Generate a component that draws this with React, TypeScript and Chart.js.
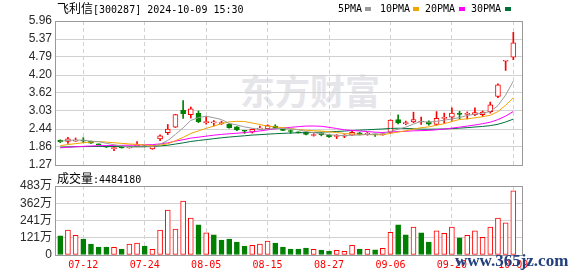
import React, { useEffect, useRef } from "react";
import { Chart, registerables } from "chart.js";

Chart.register(...registerables);

// ---------------- data ----------------
const stockName = "飞利信";
const stockCode = "300287";
const stamp = "2024-10-09 15:30";
const lastVolumeText = "4484180";

const dates = [
  "07-09","07-10","07-11","07-12","07-15","07-16","07-17","07-18","07-19","07-22",
  "07-23","07-24","07-25","07-26","07-29","07-30","07-31","08-01","08-02","08-05",
  "08-06","08-07","08-08","08-09","08-12","08-13","08-14","08-15","08-16","08-19",
  "08-20","08-21","08-22","08-23","08-26","08-27","08-28","08-29","08-30","09-02",
  "09-03","09-04","09-05","09-06","09-09","09-10","09-11","09-12","09-13","09-18",
  "09-19","09-20","09-23","09-24","09-25","09-26","09-27","09-30","10-08","10-09",
];

const opens = [
  2.07, 2.04, 2.05, 2.07, 2.04, 1.95, 1.88, 1.80, 1.86, 1.83,
  1.89, 1.89, 1.79, 2.12, 2.32, 2.50, 3.05, 2.91, 2.95, 2.65,
  2.64, 2.62, 2.60, 2.51, 2.39, 2.34, 2.44, 2.45, 2.54, 2.42,
  2.38, 2.34, 2.34, 2.23, 2.31, 2.24, 2.20, 2.21, 2.24, 2.32,
  2.28, 2.27, 2.25, 2.33, 2.75, 2.62, 2.67, 2.67, 2.68, 2.59,
  2.79, 2.83, 2.94, 2.92, 2.91, 2.91, 3.01, 3.50, 4.65, 4.78,
];
const closes = [
  2.02, 2.12, 2.07, 2.05, 1.98, 1.93, 1.85, 1.84, 1.83, 1.85,
  1.91, 1.87, 1.89, 2.22, 2.44, 2.91, 2.94, 3.10, 2.68, 2.67,
  2.66, 2.64, 2.48, 2.41, 2.37, 2.43, 2.45, 2.55, 2.46, 2.40,
  2.36, 2.32, 2.27, 2.25, 2.26, 2.19, 2.22, 2.22, 2.33, 2.27,
  2.29, 2.25, 2.27, 2.73, 2.64, 2.63, 2.75, 2.69, 2.60, 2.79,
  2.81, 2.96, 2.92, 2.94, 2.98, 2.99, 3.23, 3.88, 4.66, 5.25,
];
const highs = [
  2.09, 2.17, 2.15, 2.16, 2.05, 1.96, 1.89, 1.86, 1.87, 1.86,
  2.03, 1.90, 1.90, 2.25, 2.59, 2.92, 3.37, 3.16, 3.03, 2.84,
  2.72, 2.70, 2.62, 2.52, 2.40, 2.44, 2.54, 2.58, 2.58, 2.43,
  2.41, 2.35, 2.35, 2.29, 2.32, 2.25, 2.26, 2.26, 2.38, 2.33,
  2.33, 2.28, 2.29, 2.74, 2.90, 2.70, 2.99, 2.83, 2.71, 3.01,
  2.96, 3.13, 3.02, 3.00, 3.13, 3.03, 3.32, 3.91, 4.66, 5.59,
];
const lows = [
  2.00, 1.97, 2.04, 2.00, 1.97, 1.92, 1.84, 1.74, 1.82, 1.82,
  1.88, 1.86, 1.78, 2.06, 2.26, 2.49, 2.79, 2.80, 2.65, 2.60,
  2.54, 2.59, 2.47, 2.39, 2.30, 2.31, 2.43, 2.44, 2.45, 2.39,
  2.30, 2.31, 2.25, 2.21, 2.22, 2.17, 2.13, 2.16, 2.23, 2.25,
  2.24, 2.20, 2.24, 2.31, 2.61, 2.58, 2.65, 2.59, 2.57, 2.57,
  2.63, 2.72, 2.77, 2.77, 2.88, 2.85, 2.96, 3.46, 4.35, 4.70,
];

const ma5 = [
  2.040, 2.074, 2.084, 2.078, 2.048, 2.030, 1.976, 1.930, 1.886, 1.860,
  1.856, 1.860, 1.870, 1.948, 2.066, 2.266, 2.480, 2.722, 2.814, 2.860,
  2.810, 2.750, 2.626, 2.572, 2.512, 2.466, 2.428, 2.442, 2.452, 2.458,
  2.444, 2.418, 2.362, 2.320, 2.292, 2.258, 2.238, 2.228, 2.244, 2.246,
  2.266, 2.272, 2.282, 2.362, 2.436, 2.504, 2.604, 2.688, 2.662, 2.692,
  2.728, 2.770, 2.816, 2.884, 2.922, 2.958, 3.012, 3.204, 3.548, 4.002,
];
const ma10 = [
  1.900, 1.936, 1.967, 1.996, 2.018, 2.035, 2.016, 1.995, 1.974, 1.954,
  1.943, 1.918, 1.900, 1.917, 1.963, 2.061, 2.170, 2.296, 2.381, 2.463,
  2.538, 2.615, 2.674, 2.693, 2.686, 2.638, 2.589, 2.534, 2.512, 2.485,
  2.455, 2.423, 2.402, 2.386, 2.375, 2.351, 2.328, 2.295, 2.282, 2.269,
  2.262, 2.255, 2.255, 2.303, 2.341, 2.385, 2.438, 2.485, 2.512, 2.564,
  2.616, 2.687, 2.752, 2.773, 2.807, 2.843, 2.891, 3.010, 3.216, 3.462,
];
const ma20 = [
  1.830, 1.848, 1.864, 1.878, 1.889, 1.898, 1.902, 1.906, 1.910, 1.914,
  1.922, 1.927, 1.934, 1.957, 1.990, 2.048, 2.093, 2.146, 2.177, 2.209,
  2.241, 2.267, 2.287, 2.305, 2.325, 2.350, 2.380, 2.415, 2.447, 2.474,
  2.497, 2.519, 2.538, 2.540, 2.531, 2.495, 2.459, 2.415, 2.397, 2.377,
  2.359, 2.339, 2.329, 2.345, 2.358, 2.368, 2.383, 2.390, 2.397, 2.417,
  2.439, 2.471, 2.504, 2.538, 2.574, 2.614, 2.665, 2.748, 2.864, 3.013,
];
const ma30 = [
  1.850, 1.858, 1.864, 1.869, 1.872, 1.873, 1.872, 1.870, 1.868, 1.867,
  1.868, 1.871, 1.876, 1.891, 1.914, 1.952, 1.991, 2.036, 2.067, 2.097,
  2.127, 2.156, 2.180, 2.202, 2.222, 2.245, 2.258, 2.275, 2.289, 2.301,
  2.312, 2.319, 2.325, 2.332, 2.341, 2.350, 2.362, 2.375, 2.392, 2.406,
  2.418, 2.431, 2.444, 2.461, 2.467, 2.458, 2.452, 2.438, 2.435, 2.439,
  2.444, 2.455, 2.470, 2.487, 2.508, 2.526, 2.552, 2.597, 2.670, 2.765,
];

// volume in 万
const volumes = [
  134, 174, 138, 112, 77, 56, 56, 54, 42, 77,
  84, 63, 40, 174, 314, 181, 377, 258, 211, 155,
  141, 105, 112, 91, 63, 68, 77, 98, 84, 56,
  42, 42, 49, 40, 35, 28, 33, 26, 68, 42,
  40, 37, 47, 159, 211, 141, 195, 155, 91, 169,
  152, 195, 120, 138, 169, 124, 195, 258, 225, 448.418,
];
// 1 = up (red), -1 = down (green)
const volDir = [
  -1, 1, 1, -1, -1, -1, -1, 1, -1, 1,
  1, -1, 1, 1, 1, 1, 1, 1, -1, 1,
  -1, -1, -1, -1, -1, 1, 1, 1, -1, -1,
  -1, -1, -1, 1, -1, -1, 1, 1, 1, -1,
  1, -1, 1, 1, -1, -1, 1, -1, -1, 1,
  1, 1, -1, 1, 1, 1, 1, 1, 1, 1,
];

const xTickLabels = ["07-12", "07-24", "08-05", "08-15", "08-27", "09-06", "09-20", "10-09"];
const priceTickLabels = ["1.27", "1.86", "2.44", "3.03", "3.62", "4.20", "4.79", "5.37", "5.96"];
const volTickLabels = ["0", "121万", "241万", "362万", "483万"];
const maLabels = ["5PMA", "10PMA", "20PMA", "30PMA"];

// ---------------- styles ----------------
const RED = "#ff0000";
const GREEN = "#008000";
const MA_COLORS = ["#9a9a9a", "#f2a300", "#ff00ff", "#00703a"];
const GRID = "#d2d2d2";
const FRAME = "#999999";
const LABEL = "#2a2a2a";
const SANS = "'Liberation Sans', Arial, 'Noto Sans CJK SC', sans-serif";
const MONO = "'DejaVu Sans Mono', monospace";
const CJK = "'Noto Sans CJK SC', sans-serif";

const W = 578;
const H = 276;
const PLOT_LEFT = 55;
const PLOT_RIGHT = 522;
const PRICE_TOP = 21;
const PRICE_BOTTOM = 165;
const VOL_TOP = 186;
const VOL_BOTTOM = 255;
const X_MIN = -0.685;
const X_MAX = 60.13;

const framePlugin = {
  id: "frame",
  beforeDatasetsDraw(chart: any) {
    const { ctx, chartArea: a } = chart;
    ctx.save();
    ctx.strokeStyle = FRAME;
    ctx.lineWidth = 1;
    ctx.strokeRect(a.left + 0.5, a.top + 0.5, a.right - a.left, a.bottom - a.top);
    ctx.restore();
  },
};

function makeXScale(showLabels: boolean) {
  const tickIdx = xTickLabels.map((l) => dates.indexOf(l));
  return {
    type: "linear",
    min: X_MIN,
    max: X_MAX,
    offset: false,
    bounds: "data",
    afterDataLimits: (s: any) => {
      s.min = X_MIN;
      s.max = X_MAX;
    },
    afterBuildTicks: (s: any) => {
      s.ticks = tickIdx.map((v) => ({ value: v }));
      s.min = X_MIN;
      s.max = X_MAX;
    },
    afterFit: (s: any) => {
      s.height = showLabels ? H - VOL_BOTTOM : 0;
      s.paddingLeft = 0;
      s.paddingRight = 0;
    },
    grid: { color: GRID, lineWidth: 1, drawTicks: false, offset: false },
    border: { display: false, dash: [4, 3] },
    ticks: {
      display: showLabels,
      autoSkip: false,
      maxRotation: 0,
      minRotation: 0,
      padding: 4,
      color: RED,
      font: { family: MONO, size: 10 },
      callback: (v: number) => dates[v],
    },
  };
}

function makeYScale(labels: string[], width: number) {
  const vals = labels.map((t) => parseFloat(t));
  return {
    type: "linear",
    min: vals[0],
    max: vals[vals.length - 1],
    afterBuildTicks: (s: any) => {
      s.ticks = vals.map((v) => ({ value: v }));
    },
    afterFit: (s: any) => {
      s.width = width;
      s.paddingTop = 0;
      s.paddingBottom = 0;
    },
    grid: { color: GRID, lineWidth: 1, drawTicks: false },
    border: { display: false },
    ticks: {
      z: 1,
      autoSkip: false,
      padding: 3,
      color: LABEL,
      font: { family: SANS, size: 12 },
      callback: (_v: number, i: number) => labels[i],
    },
  };
}

export default function App() {
  const priceRef = useRef<HTMLCanvasElement>(null);
  const volRef = useRef<HTMLCanvasElement>(null);

  useEffect(() => {
    const candleColor = closes.map((c, i) => (c >= opens[i] ? RED : GREEN));
    const candleFill = closes.map((c, i) => (c >= opens[i] ? "#ffffff" : GREEN));
    const maSeries = [ma5, ma10, ma20, ma30];

    const priceChart = new Chart(priceRef.current as HTMLCanvasElement, {
      type: "bar",
      data: {
        datasets: [
          ...maSeries.map((arr, k) => ({
            type: "line" as const,
            label: maLabels[k],
            data: arr.map((v, i) => ({ x: i, y: v })),
            borderColor: MA_COLORS[k],
            borderWidth: 1,
            pointRadius: 0,
            tension: 0,
            fill: false,
          })),
          {
            type: "bar" as const,
            label: "body",
            data: opens.map((o, i) => ({ x: i, y: [o, closes[i]] })),
            backgroundColor: candleFill,
            borderColor: candleColor,
            borderWidth: 1,
            borderSkipped: false,
            barThickness: 5,
            grouped: false,
            minBarLength: 1,
          },
          {
            type: "bar" as const,
            label: "wick",
            data: lows.map((l, i) => ({ x: i, y: [l, highs[i]] })),
            backgroundColor: candleColor,
            borderWidth: 0,
            barThickness: 1,
            grouped: false,
          },
        ],
      } as any,
      options: {
        responsive: false,
        animation: false,
        events: [],
        layout: {
          padding: { left: 0, right: W - PLOT_RIGHT, top: PRICE_TOP, bottom: H - PRICE_BOTTOM },
        },
        plugins: { legend: { display: false }, tooltip: { enabled: false } },
        scales: {
          x: makeXScale(false),
          y: makeYScale(priceTickLabels, PLOT_LEFT),
        } as any,
      },
      plugins: [framePlugin],
    });

    const volChart = new Chart(volRef.current as HTMLCanvasElement, {
      type: "bar",
      data: {
        datasets: [
          {
            label: "vol",
            data: volumes.map((v, i) => ({ x: i, y: v })),
            backgroundColor: volDir.map((d) => (d > 0 ? "#ffffff" : GREEN)),
            borderColor: volDir.map((d) => (d > 0 ? RED : GREEN)),
            borderWidth: 1,
            borderSkipped: false,
            barThickness: 5,
            grouped: false,
          },
        ],
      } as any,
      options: {
        responsive: false,
        animation: false,
        events: [],
        layout: { padding: { left: 0, right: W - PLOT_RIGHT, top: VOL_TOP, bottom: 0 } },
        plugins: { legend: { display: false }, tooltip: { enabled: false } },
        scales: {
          x: makeXScale(true),
          y: makeYScale(volTickLabels, PLOT_LEFT),
        } as any,
      },
      plugins: [framePlugin],
    });

    return () => {
      priceChart.destroy();
      volChart.destroy();
    };
  }, []);

  const legendX = [338, 380, 425, 471];
  const squareX = [365, 413, 459, 505];

  const abs = (left: number, top: number): React.CSSProperties => ({
    position: "absolute",
    left,
    top,
    whiteSpace: "nowrap",
  });

  return (
    <div
      style={{
        position: "absolute",
        left: 0,
        top: 0,
        width: W,
        height: H,
        background: "#ffffff",
        overflow: "hidden",
      }}
    >
      <div
        style={{
          ...abs(240, 72),
          fontFamily: CJK,
          fontWeight: 700,
          fontSize: 35,
          lineHeight: "35px",
          color: "#e6e6ea",
        }}
      >
        东方财富
      </div>
      <canvas ref={priceRef} width={W} height={H} style={{ position: "absolute", left: 0, top: 0 }} />
      <canvas ref={volRef} width={W} height={H} style={{ position: "absolute", left: 0, top: 0 }} />

      <div style={{ ...abs(57, 3), fontFamily: MONO, fontSize: 10, lineHeight: "10px", color: "#000" }}>
        <span style={{ fontFamily: CJK, fontSize: 12 }}>{stockName}</span>
        {`[${stockCode}] ${stamp}`}
      </div>

      {maLabels.map((t, k) => (
        <React.Fragment key={t}>
          <div style={{ ...abs(legendX[k], 4), fontFamily: MONO, fontSize: 10, lineHeight: "10px", color: "#000" }}>
            {t}
          </div>
          <div
            style={{
              position: "absolute",
              left: squareX[k],
              top: 7,
              width: 6,
              height: 4,
              background: MA_COLORS[k],
            }}
          />
        </React.Fragment>
      ))}

      <div style={{ ...abs(57, 173), fontFamily: MONO, fontSize: 10, lineHeight: "10px", color: "#000" }}>
        <span style={{ fontFamily: CJK, fontSize: 12 }}>成交量</span>
        {`:${lastVolumeText}`}
      </div>

      <div
        style={{
          ...abs(455, 252),
          fontFamily: "'Liberation Serif', serif",
          fontWeight: 700,
          fontSize: 17,
          lineHeight: "17px",
          color: "#23407e",
        }}
      >
        www.365jz.com
      </div>
    </div>
  );
}
